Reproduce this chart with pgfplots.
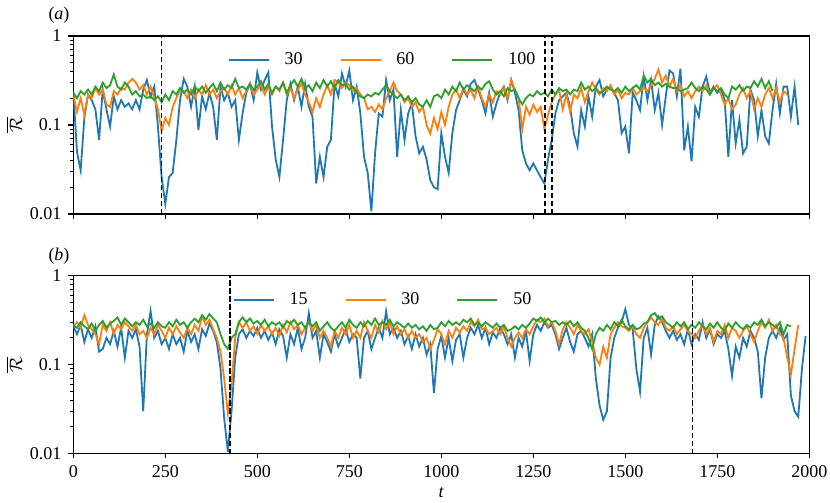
\documentclass[border=0pt]{standalone}
\usepackage{fontspec}
\setmainfont{Liberation Serif}
\usepackage{pgfplots}
\usepackage{pgfplotstable}
\pgfplotsset{compat=1.18}
\definecolor{tblue}{HTML}{1F77B4}
\definecolor{torange}{HTML}{FF7F0E}
\definecolor{tgreen}{HTML}{2CA02C}

\pgfplotstableread[row sep=\\]{R\\
0.24\\0.05\\0.031\\0.12\\0.22\\0.19\\0.15\\0.068\\0.25\\0.15\\
0.096\\0.21\\0.15\\0.19\\0.16\\0.175\\0.15\\0.19\\0.15\\0.25\\
0.32\\0.21\\0.27\\0.096\\0.026\\0.013\\0.026\\0.029\\0.068\\0.19\\
0.33\\0.27\\0.16\\0.27\\0.088\\0.21\\0.15\\0.23\\0.16\\0.068\\
0.27\\0.19\\0.23\\0.16\\0.19\\0.068\\0.135\\0.23\\0.29\\0.19\\
0.39\\0.25\\0.32\\0.39\\0.096\\0.041\\0.026\\0.068\\0.19\\0.29\\
0.19\\0.27\\0.16\\0.29\\0.16\\0.124\\0.022\\0.044\\0.026\\0.057\\
0.068\\0.29\\0.21\\0.38\\0.27\\0.41\\0.19\\0.27\\0.135\\0.044\\
0.029\\0.0107\\0.048\\0.135\\0.124\\0.32\\0.19\\0.25\\0.044\\0.147\\
0.068\\0.135\\0.175\\0.075\\0.048\\0.057\\0.041\\0.024\\0.020\\0.019\\
0.081\\0.044\\0.029\\0.081\\0.147\\0.19\\0.25\\0.21\\0.29\\0.32\\
0.25\\0.19\\0.135\\0.23\\0.124\\0.175\\0.23\\0.27\\0.19\\0.32\\
0.23\\0.147\\0.052\\0.037\\0.031\\0.037\\0.031\\0.026\\0.022\\0.041\\
0.068\\0.135\\0.19\\0.21\\0.23\\0.16\\0.081\\0.057\\0.147\\0.096\\
0.21\\0.124\\0.27\\0.32\\0.21\\0.25\\0.27\\0.23\\0.19\\0.081\\
0.096\\0.048\\0.23\\0.19\\0.147\\0.35\\0.19\\0.32\\0.147\\0.23\\
0.1\\0.21\\0.41\\0.38\\0.21\\0.43\\0.052\\0.096\\0.039\\0.16\\
0.124\\0.27\\0.35\\0.23\\0.27\\0.23\\0.25\\0.19\\0.044\\0.19\\
0.062\\0.114\\0.048\\0.057\\0.25\\0.19\\0.075\\0.147\\0.075\\0.062\\
0.147\\0.29\\0.135\\0.27\\0.27\\0.124\\0.27\\0.1\\
}\atrente

\pgfplotstableread[row sep=\\]{R\\
0.22\\0.14\\0.2\\0.13\\0.22\\0.2\\0.26\\0.22\\0.25\\0.17\\
0.16\\0.24\\0.22\\0.26\\0.25\\0.3\\0.33\\0.3\\0.25\\0.28\\
0.22\\0.27\\0.2\\0.15\\0.085\\0.12\\0.1\\0.16\\0.2\\0.25\\
0.24\\0.2\\0.25\\0.2\\0.25\\0.22\\0.28\\0.22\\0.25\\0.2\\
0.24\\0.26\\0.22\\0.28\\0.22\\0.26\\0.2\\0.24\\0.29\\0.22\\
0.25\\0.28\\0.22\\0.27\\0.22\\0.27\\0.24\\0.3\\0.22\\0.26\\
0.2\\0.25\\0.29\\0.22\\0.18\\0.14\\0.2\\0.16\\0.22\\0.28\\
0.22\\0.32\\0.3\\0.26\\0.3\\0.28\\0.24\\0.26\\0.22\\0.2\\
0.15\\0.16\\0.14\\0.17\\0.15\\0.2\\0.24\\0.3\\0.24\\0.22\\
0.18\\0.2\\0.16\\0.18\\0.14\\0.16\\0.1\\0.08\\0.12\\0.09\\
0.14\\0.1\\0.16\\0.22\\0.25\\0.2\\0.26\\0.22\\0.25\\0.2\\
0.27\\0.2\\0.16\\0.22\\0.18\\0.24\\0.22\\0.26\\0.2\\0.32\\
0.25\\0.2\\0.09\\0.16\\0.13\\0.17\\0.14\\0.16\\0.09\\0.13\\
0.18\\0.22\\0.25\\0.15\\0.22\\0.14\\0.22\\0.2\\0.26\\0.18\\
0.24\\0.3\\0.25\\0.22\\0.26\\0.24\\0.28\\0.22\\0.25\\0.2\\
0.23\\0.22\\0.26\\0.22\\0.24\\0.26\\0.24\\0.28\\0.33\\0.42\\
0.3\\0.36\\0.27\\0.33\\0.24\\0.28\\0.21\\0.24\\0.2\\0.24\\
0.27\\0.24\\0.28\\0.22\\0.26\\0.28\\0.22\\0.17\\0.2\\0.15\\
0.17\\0.22\\0.26\\0.2\\0.24\\0.15\\0.2\\0.16\\0.22\\0.26\\
0.2\\0.26\\0.18\\0.24\\0.22\\
}\asoixante

\pgfplotstableread[row sep=\\]{R\\
0.23\\0.2\\0.24\\0.22\\0.25\\0.22\\0.27\\0.24\\0.3\\0.26\\
0.28\\0.37\\0.27\\0.25\\0.3\\0.27\\0.22\\0.24\\0.21\\0.22\\
0.2\\0.21\\0.19\\0.21\\0.18\\0.22\\0.19\\0.24\\0.22\\0.26\\
0.23\\0.25\\0.22\\0.27\\0.24\\0.27\\0.23\\0.26\\0.29\\0.24\\
0.3\\0.25\\0.28\\0.26\\0.33\\0.26\\0.27\\0.25\\0.29\\0.25\\
0.27\\0.31\\0.25\\0.29\\0.23\\0.27\\0.25\\0.3\\0.23\\0.28\\
0.32\\0.27\\0.33\\0.26\\0.28\\0.24\\0.3\\0.26\\0.32\\0.27\\
0.31\\0.26\\0.32\\0.28\\0.29\\0.25\\0.27\\0.23\\0.21\\0.2\\
0.22\\0.21\\0.23\\0.22\\0.25\\0.28\\0.24\\0.22\\0.2\\0.22\\
0.19\\0.21\\0.18\\0.2\\0.17\\0.16\\0.19\\0.16\\0.21\\0.22\\
0.2\\0.25\\0.22\\0.27\\0.24\\0.3\\0.25\\0.28\\0.26\\0.24\\
0.27\\0.25\\0.29\\0.31\\0.25\\0.22\\0.24\\0.21\\0.26\\0.24\\
0.25\\0.2\\0.17\\0.2\\0.22\\0.21\\0.24\\0.22\\0.23\\0.21\\
0.25\\0.22\\0.26\\0.24\\0.25\\0.22\\0.25\\0.24\\0.3\\0.25\\
0.27\\0.24\\0.26\\0.23\\0.24\\0.27\\0.25\\0.24\\0.26\\0.23\\
0.27\\0.24\\0.26\\0.28\\0.25\\0.36\\0.3\\0.33\\0.28\\0.3\\
0.27\\0.29\\0.27\\0.26\\0.26\\0.24\\0.25\\0.26\\0.3\\0.26\\
0.24\\0.27\\0.25\\0.22\\0.26\\0.24\\0.26\\0.22\\0.2\\0.27\\
0.25\\0.28\\0.24\\0.27\\0.26\\0.31\\0.27\\0.33\\0.26\\0.31\\
0.24\\
}\acent

\pgfplotstableread[row sep=\\]{R\\
0.27\\0.22\\0.28\\0.18\\0.25\\0.2\\0.27\\0.14\\0.15\\0.2\\
0.17\\0.24\\0.16\\0.26\\0.12\\0.24\\0.2\\0.25\\0.16\\0.03\\
0.22\\0.4\\0.2\\0.24\\0.17\\0.2\\0.15\\0.22\\0.17\\0.2\\
0.14\\0.24\\0.18\\0.22\\0.15\\0.25\\0.21\\0.29\\0.24\\0.18\\
0.09\\0.025\\0.0105\\0.03\\0.12\\0.22\\0.25\\0.2\\0.24\\0.21\\
0.26\\0.2\\0.24\\0.19\\0.23\\0.17\\0.25\\0.21\\0.12\\0.22\\
0.17\\0.26\\0.15\\0.2\\0.38\\0.2\\0.24\\0.12\\0.22\\0.18\\
0.14\\0.22\\0.16\\0.2\\0.25\\0.18\\0.22\\0.2\\0.07\\0.2\\
0.24\\0.15\\0.2\\0.26\\0.2\\0.4\\0.22\\0.26\\0.2\\0.24\\
0.17\\0.21\\0.15\\0.22\\0.16\\0.2\\0.13\\0.17\\0.048\\0.15\\
0.21\\0.12\\0.2\\0.11\\0.19\\0.22\\0.12\\0.2\\0.26\\0.22\\
0.28\\0.2\\0.26\\0.17\\0.23\\0.2\\0.26\\0.22\\0.17\\0.22\\
0.12\\0.2\\0.16\\0.24\\0.11\\0.22\\0.28\\0.24\\0.3\\0.26\\
0.28\\0.22\\0.15\\0.2\\0.26\\0.18\\0.14\\0.22\\0.24\\0.2\\
0.16\\0.22\\0.07\\0.035\\0.024\\0.03\\0.12\\0.2\\0.26\\0.3\\
0.42\\0.28\\0.25\\0.09\\0.05\\0.2\\0.26\\0.13\\0.28\\0.35\\
0.3\\0.24\\0.2\\0.24\\0.19\\0.22\\0.17\\0.25\\0.17\\0.22\\
0.19\\0.3\\0.2\\0.25\\0.17\\0.22\\0.2\\0.24\\0.15\\0.075\\
0.16\\0.12\\0.2\\0.16\\0.24\\0.2\\0.14\\0.042\\0.12\\0.2\\
0.24\\0.2\\0.26\\0.19\\0.22\\0.045\\0.03\\0.026\\0.09\\0.21\\
}\bquinze

\pgfplotstableread[row sep=\\]{R\\
0.27\\0.3\\0.26\\0.36\\0.28\\0.25\\0.22\\0.17\\0.28\\0.24\\
0.3\\0.22\\0.28\\0.25\\0.3\\0.27\\0.24\\0.28\\0.22\\0.24\\
0.2\\0.26\\0.22\\0.28\\0.24\\0.2\\0.26\\0.22\\0.27\\0.23\\
0.2\\0.26\\0.22\\0.28\\0.24\\0.35\\0.28\\0.32\\0.25\\0.2\\
0.14\\0.07\\0.028\\0.06\\0.2\\0.3\\0.26\\0.3\\0.24\\0.27\\
0.22\\0.28\\0.24\\0.27\\0.22\\0.26\\0.21\\0.28\\0.23\\0.3\\
0.25\\0.28\\0.22\\0.26\\0.3\\0.24\\0.28\\0.2\\0.24\\0.2\\
0.16\\0.24\\0.2\\0.26\\0.22\\0.28\\0.2\\0.24\\0.2\\0.3\\
0.24\\0.2\\0.28\\0.23\\0.31\\0.25\\0.3\\0.22\\0.27\\0.22\\
0.25\\0.2\\0.24\\0.2\\0.22\\0.18\\0.2\\0.15\\0.19\\0.25\\
0.22\\0.17\\0.24\\0.2\\0.26\\0.23\\0.27\\0.24\\0.3\\0.27\\
0.32\\0.25\\0.26\\0.22\\0.24\\0.26\\0.22\\0.27\\0.2\\0.16\\
0.2\\0.23\\0.2\\0.25\\0.22\\0.27\\0.32\\0.3\\0.33\\0.27\\
0.3\\0.24\\0.17\\0.25\\0.3\\0.26\\0.22\\0.28\\0.24\\0.22\\
0.25\\0.18\\0.12\\0.1\\0.16\\0.12\\0.22\\0.26\\0.3\\0.27\\
0.26\\0.24\\0.27\\0.22\\0.2\\0.26\\0.3\\0.34\\0.3\\0.28\\
0.33\\0.26\\0.24\\0.27\\0.22\\0.25\\0.28\\0.24\\0.22\\0.2\\
0.24\\0.28\\0.22\\0.26\\0.18\\0.24\\0.22\\0.28\\0.2\\0.26\\
0.24\\0.2\\0.24\\0.27\\0.22\\0.18\\0.24\\0.3\\0.26\\0.32\\
0.24\\0.28\\0.22\\0.2\\0.12\\0.078\\0.15\\0.28\\
}\btrente

\pgfplotstableread[row sep=\\]{R\\
0.28\\0.26\\0.3\\0.27\\0.25\\0.29\\0.24\\0.28\\0.31\\0.26\\
0.29\\0.31\\0.34\\0.28\\0.33\\0.3\\0.27\\0.3\\0.28\\0.32\\
0.27\\0.29\\0.26\\0.3\\0.27\\0.26\\0.3\\0.27\\0.32\\0.28\\
0.3\\0.26\\0.3\\0.33\\0.3\\0.36\\0.32\\0.37\\0.33\\0.3\\
0.22\\0.17\\0.15\\0.2\\0.22\\0.3\\0.34\\0.3\\0.33\\0.29\\
0.31\\0.28\\0.32\\0.27\\0.3\\0.28\\0.3\\0.26\\0.31\\0.29\\
0.32\\0.28\\0.3\\0.26\\0.3\\0.27\\0.3\\0.24\\0.27\\0.3\\
0.26\\0.24\\0.27\\0.3\\0.26\\0.32\\0.28\\0.26\\0.3\\0.27\\
0.31\\0.28\\0.33\\0.28\\0.3\\0.28\\0.32\\0.27\\0.3\\0.28\\
0.26\\0.29\\0.26\\0.28\\0.25\\0.27\\0.24\\0.28\\0.25\\0.26\\
0.3\\0.27\\0.31\\0.28\\0.3\\0.28\\0.32\\0.3\\0.33\\0.28\\
0.3\\0.27\\0.3\\0.28\\0.26\\0.29\\0.26\\0.28\\0.24\\0.25\\
0.27\\0.25\\0.28\\0.26\\0.29\\0.33\\0.31\\0.34\\0.3\\0.33\\
0.3\\0.31\\0.28\\0.3\\0.28\\0.31\\0.27\\0.3\\0.26\\0.24\\
0.2\\0.15\\0.22\\0.26\\0.24\\0.28\\0.25\\0.3\\0.27\\0.32\\
0.27\\0.25\\0.28\\0.25\\0.26\\0.29\\0.3\\0.36\\0.38\\0.33\\
0.35\\0.3\\0.28\\0.26\\0.3\\0.27\\0.3\\0.25\\0.28\\0.26\\
0.3\\0.27\\0.25\\0.29\\0.26\\0.3\\0.26\\0.24\\0.29\\0.26\\
0.3\\0.27\\0.25\\0.28\\0.26\\0.3\\0.28\\0.32\\0.27\\0.3\\
0.28\\0.26\\0.3\\0.22\\0.28\\0.27\\
}\bcinquante

\tikzset{vline/.style={black, line width=0.7pt, dash pattern=on 2.6pt off 1.4pt}}

\begin{document}
\begin{tikzpicture}[font=\fontsize{9}{11}\selectfont]
\useasboundingbox (-36.65pt,-24.5pt) rectangle (378.35pt,226.85pt);
\begin{axis}[name=pa, at={(0pt,119.85pt)}, anchor=south west,
    width=368pt, height=89pt, scale only axis,
    xmin=0, xmax=2000, ymode=log, ymin=0.01, ymax=1,
    xtick={0,250,500,750,1000,1250,1500,1750,2000}, xticklabels={},
    ytick={0.01,0.1,1}, yticklabels={0.01,0.1,1},
    minor ytick={0.02,0.03,0.04,0.05,0.06,0.07,0.08,0.09,0.2,0.3,0.4,0.5,0.6,0.7,0.8,0.9},
    tick align=outside, xtick pos=bottom, ytick pos=left,
    major tick length=2.4pt, minor tick length=1.4pt,
    axis line style={line width=0.7pt},
    tick style={black, line width=0.55pt},
    ylabel={$\overline{\mathcal{R}}$},
    ylabel style={at={(axis description cs:-0.0805,0.5)}, anchor=center},
    legend columns=3,
    legend image code/.code={\draw[#1] (0pt,0pt) -- (20pt,0pt);},
    legend style={draw=none, fill=none, inner sep=0pt, outer sep=0pt,
      nodes={inner sep=0pt},
      /tikz/every odd column/.append style={column sep=7.5pt},
      /tikz/every even column/.append style={column sep=18.5pt},
      at={(axis description cs:0.21,0.865)}, anchor=west}]
\addplot[tblue, line width=0.9pt] table[x expr=\coordindex*10, y=R] {\atrente};
\addplot[torange, line width=0.9pt] table[x expr=\coordindex*10, y=R] {\asoixante};
\addplot[tgreen, line width=0.9pt] table[x expr=\coordindex*10, y=R] {\acent};
\legend{30,60,100}
\addplot[vline, forget plot] coordinates {(240,0.01) (240,1)};
\addplot[vline, forget plot] coordinates {(1282,0.01) (1282,1)};
\addplot[vline, forget plot] coordinates {(1301,0.01) (1301,1)};
\end{axis}
\begin{axis}[name=pb, at={(0pt,0pt)}, anchor=south west,
    width=368pt, height=89pt, scale only axis,
    xmin=0, xmax=2000, ymode=log, ymin=0.01, ymax=1,
    xtick={0,250,500,750,1000,1250,1500,1750,2000},
    xticklabels={0,250,500,750,1000,1250,1500,1750,2000},
    ytick={0.01,0.1,1}, yticklabels={0.01,0.1,1},
    minor ytick={0.02,0.03,0.04,0.05,0.06,0.07,0.08,0.09,0.2,0.3,0.4,0.5,0.6,0.7,0.8,0.9},
    tick align=outside, xtick pos=bottom, ytick pos=left,
    major tick length=2.4pt, minor tick length=1.4pt,
    axis line style={line width=0.7pt},
    tick style={black, line width=0.55pt},
    xlabel={\textit{t}},
    xlabel style={at={(axis description cs:0.5,0)}, anchor=base, yshift=-22pt},
    ylabel={$\overline{\mathcal{R}}$},
    ylabel style={at={(axis description cs:-0.0805,0.5)}, anchor=center},
    legend columns=3,
    legend image code/.code={\draw[#1] (0pt,0pt) -- (20pt,0pt);},
    legend style={draw=none, fill=none, inner sep=0pt, outer sep=0pt,
      nodes={inner sep=0pt},
      /tikz/every odd column/.append style={column sep=7.5pt},
      /tikz/every even column/.append style={column sep=18.5pt},
      at={(axis description cs:0.2168,0.865)}, anchor=west}]
\addplot[tblue, line width=0.9pt] table[x expr=\coordindex*10, y=R] {\bquinze};
\addplot[torange, line width=0.9pt] table[x expr=\coordindex*10, y=R] {\btrente};
\addplot[tgreen, line width=0.9pt] table[x expr=\coordindex*10, y=R] {\bcinquante};
\legend{15,30,50}
\addplot[vline, forget plot] coordinates {(426,0.01) (426,1)};
\addplot[vline, forget plot] coordinates {(1682,0.01) (1682,1)};
\end{axis}
\node at ([xshift=-7.15pt, yshift=10.5pt]pa.north west) {(\textit{a})};
\node at ([xshift=-7.15pt, yshift=9.6pt]pb.north west) {(\textit{b})};
\end{tikzpicture}
\end{document}
